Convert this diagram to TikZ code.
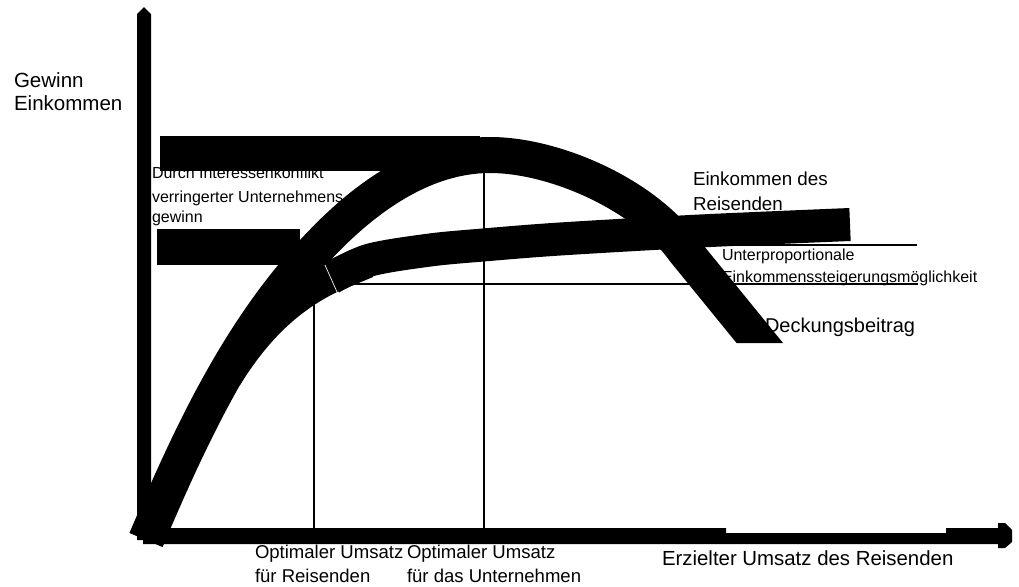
\documentclass[tikz,border=0pt]{standalone}
\usepackage{fontspec}
\setmainfont{Liberation Sans}
\begin{document}
\begin{tikzpicture}[x=0.75pt,y=-0.75pt,
  lbl/.style={anchor=base west, inner sep=0pt, outer sep=0pt},
  thinline/.style={line width=0.8pt, black},
  bandA/.style={line width=27pt, black, line cap=butt, line join=round},
  bandB/.style={line width=24.75pt, black, line cap=butt, line join=round}]
\useasboundingbox (0,0) rectangle (1019,586);

% thin guide lines (behind everything)
\coordinate (vl1t) at (314,284);
\coordinate (vl1b) at (314,528);
\coordinate (vl2t) at (484,160);
\coordinate (vl2b) at (484,528);
\coordinate (hl1a) at (314,284);
\coordinate (hl1b) at (918,284);
\coordinate (hl2a) at (660,245);
\coordinate (hl2b) at (917,245);
\draw[thinline] (vl1t) -- (vl1b);
\draw[thinline] (vl2t) -- (vl2b);
\draw[thinline] (hl1a) -- (hl1b);
\draw[thinline] (hl2a) -- (hl2b);

% labels
\node[lbl, font=\fontsize{15.4}{17}\selectfont] (gw) at (14,87) {Gewinn};
\node[lbl, font=\fontsize{15.4}{17}\selectfont] (ek) at (14,110) {Einkommen};

\node[lbl, font=\fontsize{12}{14}\selectfont] (k1) at (152,178) {Durch Interessenkonflikt};
\node[lbl, font=\fontsize{12}{14}\selectfont] (k2) at (152,202) {verringerter Unternehmens};
\node[lbl, font=\fontsize{12}{14}\selectfont] (k3) at (152,222) {gewinn};

\node[lbl, font=\fontsize{14.1}{16}\selectfont] (er1) at (693,185) {Einkommen des};
\node[lbl, font=\fontsize{14.1}{16}\selectfont] (er2) at (693,210) {Reisenden};

\node[lbl, font=\fontsize{12}{14}\selectfont] (up1) at (722,260) {Unterproportionale};
\node[lbl, font=\fontsize{12}{14}\selectfont] (up2) at (722,282) {Einkommenssteigerungsmöglichkeit};

\node[lbl, font=\fontsize{15}{17}\selectfont] (db) at (765,332) {Deckungsbeitrag};

\node[lbl, font=\fontsize{15.3}{17}\selectfont] (xl) at (662,565) {Erzielter Umsatz des Reisenden};

\node[lbl, font=\fontsize{13.9}{16}\selectfont] (or1) at (255,558) {Optimaler Umsatz};
\node[lbl, font=\fontsize{13.9}{16}\selectfont] (or2) at (255,582) {für Reisenden};
\node[lbl, font=\fontsize{13.9}{16}\selectfont] (ou1) at (407,558) {Optimaler Umsatz};
\node[lbl, font=\fontsize{13.9}{16}\selectfont] (ou2) at (407,582) {für das Unternehmen};

% horizontal bars
\fill[black] (160,136) rectangle (480,171);
\fill[black] (157,229) rectangle (300,265);

% Deckungsbeitrag curve, cut flat at its lower right end
\begin{scope}
  \clip (0,0) -- (1019,0) -- (1019,343) -- (700,343) -- (700,586) -- (0,586) -- cycle;
  \draw[bandA] (146,540) .. controls (191,434) and (241,326) .. (322,243)
    .. controls (367,196) and (425,155) .. (490,155)
    .. controls (555,155) and (645,195) .. (684,250) -- (772,358);
\end{scope}

% fillet where the income curve branches off
\fill[black] (240,385) .. controls (262,350) and (290,315) .. (337,292)
  -- (373,277) -- (370,262) -- (310,262) -- (250,340) -- cycle;

% income curve of the travelling salesman
\draw[bandB] plot[smooth, tension=0.5] coordinates {
  (331,278) (370,260) (430,250) (483,245) (560,239) (700,231) (850,224.5)};
\draw[white, line width=0.5pt] (325,265) -- (337,292);

% axes
\fill[black] (137,14) -- (144,7) -- (151,14) -- (151,540) -- (137,540) -- cycle;
\fill[black] (143,528) -- (726,528) -- (726,533) -- (946,533) -- (946,528)
  -- (998,528) -- (998,523) -- (1005,523) -- (1012,530) -- (1012,542)
  -- (1005,548) -- (998,548) -- (998,544) -- (143,544) -- cycle;
\end{tikzpicture}
\end{document}
